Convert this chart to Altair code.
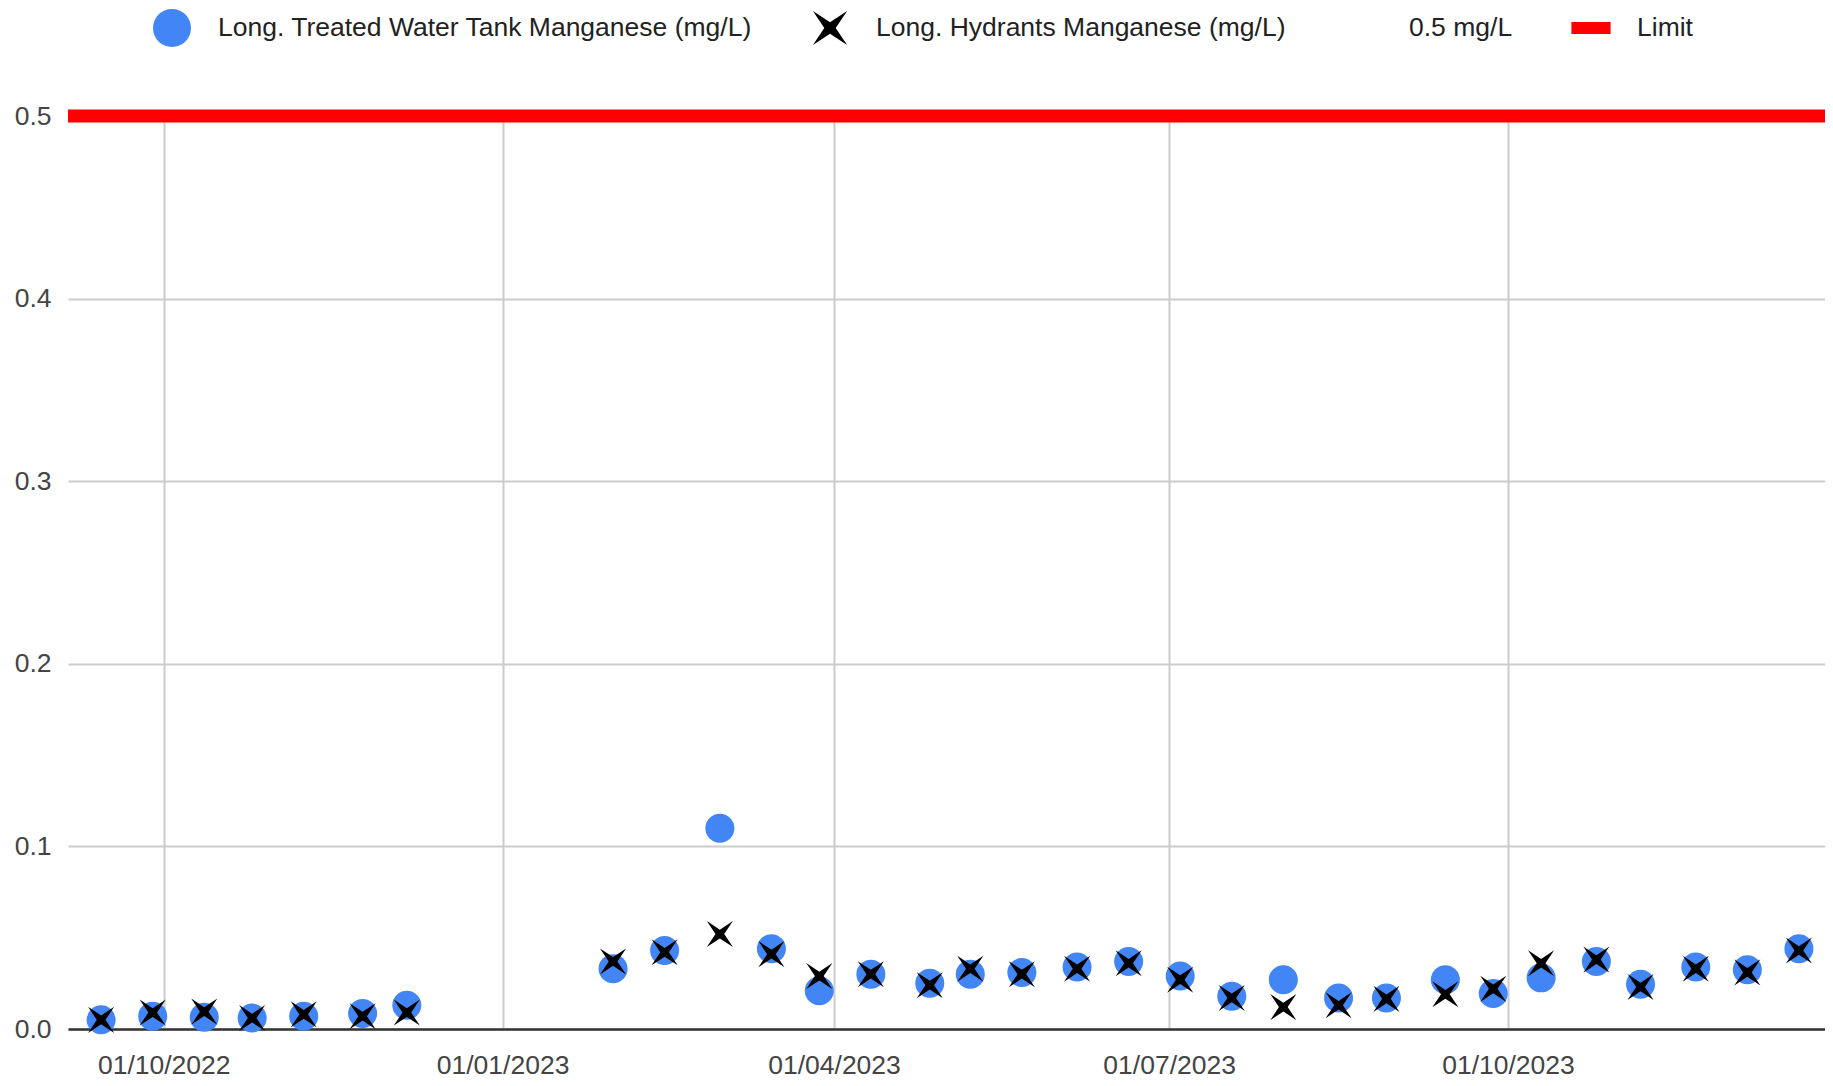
import altair as alt
import pandas as pd

# ---- data ----
dates = [
    "2022-09-14", "2022-09-28", "2022-10-12", "2022-10-25", "2022-11-08",
    "2022-11-24", "2022-12-06",
    "2023-01-31", "2023-02-14", "2023-03-01", "2023-03-15", "2023-03-28",
    "2023-04-11", "2023-04-27", "2023-05-08", "2023-05-22", "2023-06-06",
    "2023-06-20", "2023-07-04", "2023-07-18", "2023-08-01", "2023-08-16",
    "2023-08-29", "2023-09-14", "2023-09-27", "2023-10-10", "2023-10-25",
    "2023-11-06", "2023-11-21", "2023-12-05", "2023-12-19",
]
tank_mn = [
    0.005, 0.007, 0.0065, 0.006, 0.007, 0.0085, 0.013,
    0.033, 0.043, 0.110, 0.044, 0.021, 0.030, 0.025, 0.030, 0.031,
    0.034, 0.037, 0.029, 0.018, 0.027, 0.017, 0.017, 0.027, 0.0195,
    0.028, 0.037, 0.0245, 0.034, 0.0325, 0.044,
]
hydrant_mn = [
    0.005, 0.009, 0.0095, 0.006, 0.008, 0.007, 0.009,
    0.037, 0.042, 0.052, 0.041, 0.029, 0.030, 0.024, 0.033, 0.030,
    0.033, 0.036, 0.027, 0.017, 0.012, 0.013, 0.0165, 0.019, 0.022,
    0.036, 0.038, 0.023, 0.033, 0.031, 0.043,
]
limit_value = [0.5]

series_names = [
    "Long. Treated Water Tank Manganese (mg/L)",
    "Long. Hydrants Manganese (mg/L)",
    "0.5 mg/L",
    "Limit",
]
x_ticks = ["2022-10-01", "2023-01-01", "2023-04-01", "2023-07-01", "2023-10-01"]
y_ticks = [0.0, 0.1, 0.2, 0.3, 0.4, 0.5]

# ---- tables ----
pts = pd.concat([
    pd.DataFrame({"date": pd.to_datetime(dates), "value": tank_mn, "series": series_names[0]}),
    pd.DataFrame({"date": pd.to_datetime(dates), "value": hydrant_mn, "series": series_names[1]}),
], ignore_index=True)
limit_df = pd.DataFrame({"value": limit_value})

FONT = "Liberation Sans"
# invisible zero-area sub-paths keep every legend symbol's bounds the same height
pad_bounds = " M0,-1 L0.001,-1 M0,1 L0.001,1"
x_path = "M-0.9,-0.9 L0,-0.3 L0.9,-0.9 L0.3,0 L0.9,0.9 L0,0.3 L-0.9,0.9 L-0.3,0 Z" + pad_bounds
rect_path = "M-1.03,-0.32 L1.03,-0.32 L1.03,0.32 L-1.03,0.32 Z" + pad_bounds

x_scale = alt.Scale(domain=[alt.DateTime(year=2022, month=9, date=5),
                            alt.DateTime(year=2023, month=12, date=26, hours=2)])
y_scale = alt.Scale(domain=[0, 0.5], nice=False, zero=True)

x_axis = alt.Axis(
    title=None, format="%d/%m/%Y", labelFont=FONT, labelFontSize=26.5,
    labelColor="#444444", labelPadding=23, labelBaseline="top",
    ticks=False, domain=True, domainColor="#333333", domainWidth=2.5,
    grid=True, gridColor="#cccccc", gridWidth=2,
    values=[alt.DateTime(year=int(d[:4]), month=int(d[5:7]), date=int(d[8:])) for d in x_ticks],
    labelOverlap=False,
)
y_axis = alt.Axis(
    title=None, format=".1f", values=y_ticks, labelFont=FONT, labelFontSize=26.5,
    labelColor="#444444", labelPadding=17, labelAlign="right", labelBaseline="middle",
    ticks=False, domain=False, grid=True, gridColor="#cccccc", gridWidth=2,
)

legend = alt.Legend(
    title=None, orient="none", direction="horizontal", columns=4,
    legendX=85, legendY=-107, padding=0,
    symbolSize=1444, symbolStrokeWidth=0, symbolOpacity=1,
    labelFont=FONT, labelFontSize=26.5, labelColor="#222222",
    labelOffset=27, labelLimit=900, columnPadding=58,
    labelBaseline="middle",
)

points = alt.Chart(pts).mark_point(filled=True, opacity=1, strokeWidth=0).encode(
    x=alt.X("date:T", scale=x_scale, axis=x_axis),
    y=alt.Y("value:Q", scale=y_scale, axis=y_axis),
    color=alt.Color(
        "series:N",
        scale=alt.Scale(domain=series_names,
                        range=["#4285f4", "#000000", "transparent", "#ff0000"]),
        legend=legend,
    ),
    shape=alt.Shape(
        "series:N",
        scale=alt.Scale(domain=series_names,
                        range=["circle", x_path, "circle", rect_path]),
        legend=legend,
    ),
    size=alt.value(841),
    order=alt.Order("series_order:Q"),
).transform_calculate(
    series_order=f"datum.series === '{series_names[0]}' ? 0 : 1"
)

limit_rule = alt.Chart(limit_df).mark_rule(color="#ff0000", strokeWidth=13, strokeCap="butt").encode(
    y=alt.Y("value:Q", scale=y_scale),
)

chart = alt.layer(points, limit_rule).properties(
    width=1757,
    height=913,
    padding={"left": 60, "top": 108, "right": 0, "bottom": 49},
    autosize=alt.AutoSizeParams(type="none"),
    background="white",
).configure_view(strokeWidth=0)

chart.save("out.html", embed_options={"renderer": "svg", "actions": False})
